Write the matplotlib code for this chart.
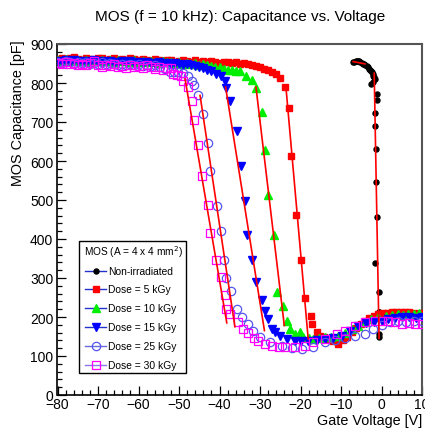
import matplotlib
matplotlib.use("Agg")
import matplotlib.pyplot as plt
from matplotlib.lines import Line2D
from matplotlib.patches import Rectangle
from matplotlib.ticker import MultipleLocator

plt.rcParams['font.family'] = ['Liberation Sans', 'DejaVu Sans']

# ---------------- data ----------------
# Non-irradiated
v_ni = [-7.0, -6.7, -6.4, -6.1, -5.8, -5.5, -5.2, -4.9, -4.6, -4.3, -4.0, -3.7, -3.4, -3.1,
        -2.8, -2.6, -2.4, -2.2, -2.0, -1.8, -1.6, -2.0, -2.6, -1.0, -1.0, -1.5, -1.7, -1.4,
        -1.3, -1.2, -1.6, -0.55, -0.6, -0.6, -0.65, -0.5, 0.5, 1.5, 2.5, 3.5, 4.15, 5.0,
        6.0, 7.0, 8.0, 9.0, 10.0]
c_ni = [853, 855, 856, 857, 857, 856, 854, 852, 850, 848, 846, 843, 840, 837,
        833, 830, 827, 823, 819, 815, 810, 802, 797, 772, 756, 723, 689, 632,
        546, 457, 339, 263, 213, 156, 148, 212, 208, 210, 212, 211, 214, 210,
        209, 211, 208, 210, 209]

# Dose = 5 kGy
v_5 = [-80, -79, -78, -77, -76, -75, -74, -73, -72, -71, -70, -69, -68, -67, -66, -65,
       -64, -63, -62, -61, -60, -59, -58, -57, -56, -55, -54, -53, -52, -51, -50, -49,
       -48, -47, -46, -45, -44, -43, -42, -41, -40, -39, -38, -37, -36, -35, -34,
       -33, -32, -31, -30, -29, -28, -27, -26, -25, -23.8, -22.8, -22.3, -21.1, -19.9,
       -18.9, -17.4, -17.1, -16.0, -15.2, -14.2, -13.1, -12.0, -10.7, -9.5, -8.4, -7.35,
       -6.2, -5.1, -4.1, -3.0, -1.9, -0.8, 0.3, 1.4, 2.5, 3.6, 4.7, 5.8, 6.9, 8.0, 9.1, 10.0]
c_5 = [862, 865, 860, 864, 866, 861, 859, 864, 862, 860, 865, 863, 858, 861, 864, 860,
       862, 859, 863, 861, 858, 862, 860, 857, 861, 859, 856, 860, 858, 855, 857, 859,
       856, 854, 858, 855, 857, 853, 856, 854, 852, 855, 853, 851, 854, 850, 852,
       849, 847, 843, 840, 836, 833, 828, 822, 812, 790, 736, 614, 462, 346,
       250, 203, 182, 161, 152, 148, 144, 138, 131, 140, 150, 161,
       172, 182, 190, 197, 203, 208, 210, 211, 212, 213, 212, 212, 214, 211, 208, 210]

# Dose = 10 kGy
v_10 = [-80, -79, -78, -77, -76, -75, -74, -73, -72, -71, -70, -69, -68, -67, -66, -65,
        -64, -63, -62, -61, -60, -59, -58, -57, -56, -55, -54, -53, -52, -51, -50, -49,
        -48, -47, -46, -45, -44, -43, -42, -41, -40,
        -39, -38, -37, -36, -35, -33.5, -32, -31, -29.6, -28.7, -27.95, -26.6, -25.9,
        -24.2, -23.4, -22.6, -21.4, -20.1, -19.3, -18.0, -16.8, -15.4, -14.0, -12.4,
        -10.7, -9.0, -7.35, -5.7, -4.1, -2.5, -0.8, 1.0, 2.5, 4.0, 5.3, 6.6, 8.0, 9.3]
c_10 = [860, 857, 861, 858, 856, 860, 857, 859, 855, 858, 857, 860, 856, 858, 855, 859,
        856, 857, 854, 858, 855, 857, 853, 856, 854, 852, 856, 853, 855, 851, 854, 850,
        852, 849, 851, 847, 849, 846, 844, 842, 840,
        836, 834, 833, 832, 830, 819, 808, 787, 726, 628, 514, 410, 263,
        229, 190, 169, 156, 161, 148, 146, 144, 146, 148, 150,
        152, 160, 169, 178, 186, 194, 199, 203, 205, 207, 206, 208, 207, 209]

# Dose = 15 kGy
v_15 = [-80, -79, -78, -77, -76, -75, -74, -73, -72, -71, -70, -69, -68, -67, -66, -65,
        -64, -63, -62, -61, -60, -59, -58, -57, -56, -55, -54, -53, -52, -51, -50, -49,
        -48, -47,
        -46, -45, -44, -43, -42, -40.8, -39.6, -38.6, -38.4, -37.3, -35.75, -34.8, -33.6,
        -33.2, -32.05, -31.1, -29.6, -28.8, -28.0, -27.1, -26.3, -25.1, -23.4, -21.4,
        -19.8, -18.1, -16.0, -14.0, -11.9, -9.8, -7.7, -5.7, -3.8, -1.9, 0.0, 1.7, 3.4,
        5.0, 6.7, 8.4, 10.0]
c_15 = [857, 854, 858, 855, 859, 856, 853, 857, 855, 858, 854, 857, 853, 856, 852, 855,
        857, 853, 856, 852, 855, 851, 854, 852, 849, 853, 850, 852, 848, 851, 849, 847,
        848, 845,
        844, 841, 838, 834, 830, 824, 819, 804, 786, 753, 676, 588, 497,
        410, 346, 289, 244, 216, 195, 169, 161, 152, 144, 139,
        139, 139, 141, 144, 147, 152, 164, 178, 185, 188, 190, 194, 197,
        199, 200, 198, 200]

# Dose = 25 kGy
v_25 = [-80, -79, -78, -77, -76, -75, -74, -73, -72, -71, -70, -69, -68, -67, -66, -65,
        -64, -63, -62, -61, -60, -59, -58, -57, -56,
        -54.7, -53.5, -52.2, -51.2, -50.2, -48.9, -47.7, -46.9, -46.2, -45.4, -44.15,
        -42.8, -42.35, -40.7, -39.6, -38.8, -38.5, -37.2, -35.75, -34.5, -32.9, -31.65,
        -30.0, -27.5, -24.6, -22.2, -19.7, -17.0, -14.0, -11.5, -9.0, -6.5, -4.1, -2.0,
        0.0, 2.0, 4.0, 6.0, 8.0, 10.0]
c_25 = [855, 852, 856, 853, 850, 854, 851, 853, 849, 852, 850, 853, 848, 851, 849, 846,
        850, 847, 849, 845, 848, 844, 846, 843, 845,
        840, 836, 829, 828, 827, 826, 817, 806, 795, 770, 720,
        645, 574, 485, 421, 347, 299, 267, 221, 199, 182, 165,
        148, 135, 126, 121, 118, 124, 135, 141, 147, 152, 156, 169,
        180, 186, 189, 188, 190, 189]

# Dose = 30 kGy
v_30 = [-80, -79, -78, -77, -76, -75, -74, -73, -72, -71, -70, -69, -68, -67, -66, -65,
        -64, -63, -62, -61, -60, -59, -58, -57, -56, -55, -54, -53, -52,
        -51.4, -50.6, -49.5, -48.9, -47.7, -46.9, -46.2, -45.4, -44.25, -42.8, -42.35,
        -40.8, -39.7, -38.7, -38.3, -37.5, -35.4, -34.2, -32.9, -31.6, -30.4, -28.8,
        -27.1, -25.4, -23.8, -21.4, -18.9, -16.8, -14.0, -11.1, -9.0, -6.5, -4.1, -1.6,
        0.0, 1.7, 3.3, 5.0, 6.7, 8.3, 10.0]
c_30 = [852, 849, 853, 848, 851, 846, 850, 847, 852, 856, 845, 841, 847, 843, 848, 840,
        844, 839, 846, 841, 843, 838, 845, 840, 836, 842, 834, 839, 838,
        823, 821, 817, 806, 789, 755, 705, 641, 562, 488, 415,
        346, 303, 256, 221, 207, 186, 170, 158, 145, 139, 131,
        126, 123, 122, 122, 126, 135, 144, 156, 165, 178, 186, 190,
        191, 190, 186, 182, 184, 182, 183]

# Linear fits of the transition regions (end points)
fit_v = {
    'ni_top': [-7.0, -4.1], 'ni': [-1.8, -0.6],
    '5': [-23.6, -18.1], '10': [-31.0, -24.0], '15': [-38.5, -28.9],
    '25': [-44.8, -36.2], '30': [-48.5, -38.2],
}
fit_c = {
    'ni_top': [855, 849], 'ni': [825, 145],
    '5': [790, 144], '10': [790, 178], '15': [790, 165],
    '25': [768, 175], '30': [810, 185],
}

legend_labels = ['Non-irradiated', 'Dose = 5 kGy', 'Dose = 10 kGy',
                 'Dose = 15 kGy', 'Dose = 25 kGy', 'Dose = 30 kGy']

# ---------------- figure ----------------
W, H = 425, 431
fig = plt.figure(figsize=(W / 100, H / 100), dpi=100)
L, R, T, B = 57.5, 422, 45, 396
ax = fig.add_axes([L / W, (H - B) / H, (R - L) / W, (B - T) / H])
ax.set_xlim(-80, 10)
ax.set_ylim(0, 900)

series = [
    (v_ni, c_ni, dict(marker='o', color='black', mfc='black', mec='black', ms=3.6)),
    (v_5, c_5, dict(marker='s', color='red', mfc='red', mec='red', ms=4.8)),
    (v_10, c_10, dict(marker='^', color='#00ee00', mfc='#00ee00', mec='#00ee00', ms=5.3)),
    (v_15, c_15, dict(marker='v', color='#0000ff', mfc='#0000ff', mec='#0000ff', ms=5.3)),
    (v_25, c_25, dict(marker='o', color='#5555ee', mfc='none', mec='#5555ee', ms=6.0, mew=0.9)),
    (v_30, c_30, dict(marker='s', color='#ff00ff', mfc='none', mec='#ff00ff', ms=6.0, mew=0.9)),
]
for i, (v, c, st) in enumerate(series):
    ax.plot(v, c, linestyle='none', zorder=3 + i, clip_on=True, **st)

for k in fit_v:
    ax.plot(fit_v[k], fit_c[k], color='red', lw=1.2, zorder=10)

# ticks
ax.xaxis.set_major_locator(MultipleLocator(10))
ax.xaxis.set_minor_locator(MultipleLocator(2))
ax.yaxis.set_major_locator(MultipleLocator(100))
ax.yaxis.set_minor_locator(MultipleLocator(20))
ax.tick_params(which='both', direction='in', top=False, right=False, labelsize=10,
               color='black', width=0.9)
ax.tick_params(which='major', length=6.5)
ax.tick_params(which='minor', length=3.6)
ax.tick_params(axis='x', pad=1.5)
ax.tick_params(axis='y', pad=3)
for s in ['left', 'bottom']:
    ax.spines[s].set_color('black')
    ax.spines[s].set_linewidth(1.2)
for s in ['top', 'right']:
    ax.spines[s].set_color('#555555')
    ax.spines[s].set_linewidth(1.5)

def px(x, y):
    return x / W, 1 - y / H

fig.text(*px(240, 17), 'MOS (f = 10 kHz): Capacitance vs. Voltage', fontsize=11,
         ha='center', va='center')
fig.text(*px(422, 421), 'Gate Voltage [V]', fontsize=10.4, ha='right', va='center')
fig.text(*px(18, 40), 'MOS Capacitance [pF]', fontsize=10.4, rotation=90,
         ha='center', va='top')

# legend (drawn manually, ROOT style)
lx0, ly0, lx1, ly1 = 79, 242, 186, 374
fig.patches.append(Rectangle(px(lx0, ly1), (lx1 - lx0) / W, (ly1 - ly0) / H,
                             transform=fig.transFigure, fc='white', ec='black',
                             lw=1.0, zorder=20))
fig.text(*px(133, 252), r'MOS (A = 4 x 4 mm$^{2}$)', fontsize=7.3, ha='center',
         va='center', zorder=21)
line_cols = ['#2233cc', '#2233cc', '#2233cc', '#2233cc', '#6a6ae0', '#8877ee']
row_y = [271.7, 290, 309, 327.7, 346.7, 365.7]
for i, (lab, (v, c, st)) in enumerate(zip(legend_labels, series)):
    y = row_y[i]
    x0, y0 = px(85, y)
    x1, _ = px(106, y)
    fig.lines.append(Line2D([x0, x1], [y0, y0], transform=fig.transFigure,
                            color=line_cols[i], lw=1.0, zorder=21))
    st2 = dict(st)
    st2.pop('color')
    fig.lines.append(Line2D([(x0 + x1) / 2], [y0], transform=fig.transFigure,
                            linestyle='none', zorder=22, **st2))
    fig.text(*px(108.5, y), lab, fontsize=7.4, ha='left', va='center', zorder=21)

fig.savefig('out.png', dpi=100)
